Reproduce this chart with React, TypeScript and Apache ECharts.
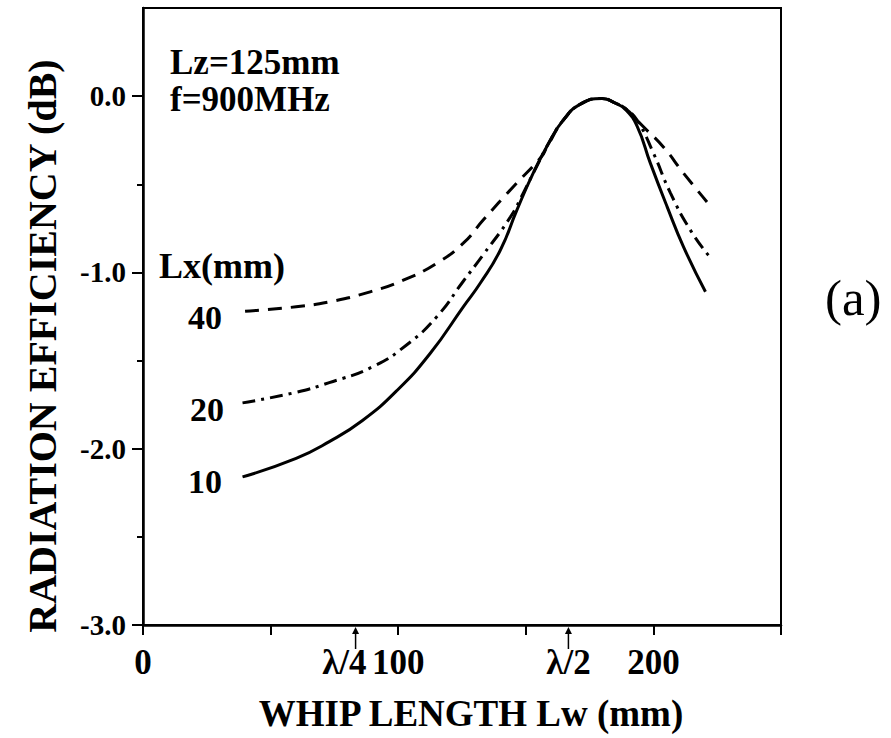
import React, { useEffect, useRef } from "react";
import * as echarts from "echarts";

const FONT = "Liberation Serif, Times New Roman, serif";

// Whip length Lw (mm) and radiation efficiency (dB) for each Lx
const lx10X = [39, 60, 73, 86, 99.5, 112.5, 125.5, 132.2, 140, 146.5, 152.9, 159.6, 164.7, 171.4, 179.9, 185.1, 189, 193.6, 198.8, 205.4, 211.8, 220.4];
const lx10Y = [-2.16, -2.055, -1.96, -1.84, -1.67, -1.46, -1.195, -1.06, -0.874, -0.647, -0.437, -0.25, -0.136, -0.045, -0.013, -0.04, -0.075, -0.17, -0.38, -0.628, -0.855, -1.11];

const lx20X = [39, 60, 73, 90, 103.4, 115.2, 125.5, 133.3, 144, 149, 152.9, 159.6, 164.7, 171.4, 179.9, 185.1, 189, 193.6, 200, 206.7, 214.5, 222];
const lx20Y = [-1.74, -1.68, -1.625, -1.535, -1.41, -1.25, -1.05, -0.9, -0.685, -0.55, -0.437, -0.25, -0.136, -0.045, -0.013, -0.04, -0.07, -0.136, -0.323, -0.55, -0.76, -0.91];

const lx40X = [40, 60, 73, 89, 102, 115.2, 125.5, 133.3, 145.1, 156.1, 158.3, 164.7, 171.4, 179.9, 185.1, 189, 196.1, 203.9, 211.8, 221];
const lx40Y = [-1.22, -1.195, -1.167, -1.11, -1.044, -0.947, -0.834, -0.703, -0.514, -0.344, -0.288, -0.136, -0.045, -0.013, -0.04, -0.07, -0.174, -0.288, -0.437, -0.6];

const xLabeled = [0, 100, 200];
const xTicks = [0, 50, 100, 150, 200, 250];
const yMajor = [-3, -2, -1, 0];
const yMinor = [-2.5, -1.5, -0.5];
const lambdaMarks = [
  { x: 83.3, text: "λ/4" },
  { x: 166.7, text: "λ/2" },
];

const zip = (xs: number[], ys: number[]) => xs.map((x, i) => [x, ys[i]]);

export default function App() {
  const ref = useRef<HTMLDivElement>(null);
  useEffect(() => {
    const chart = echarts.init(ref.current!, null, { renderer: "svg" });
    const black = "#000";
    const option: any = {
      animation: false,
      backgroundColor: "#fff",
      textStyle: { fontFamily: FONT },
      grid: {
        left: 143,
        right: 110,
        top: 8,
        bottom: 113,
        show: true,
        borderColor: black,
        borderWidth: 2,
      },
      xAxis: {
        type: "value",
        min: 0,
        max: 250,
        interval: 50,
        axisLine: { show: true, onZero: false, lineStyle: { color: black, width: 2.5 } },
        axisTick: { show: true, inside: false, length: 10, lineStyle: { color: black, width: 2 }, customValues: xTicks },
        axisLabel: {
          customValues: xLabeled,
          margin: 20,
          color: black,
          fontFamily: FONT,
          fontWeight: "bold",
          fontSize: 35,
          formatter: (v: number) => String(v),
        },
        splitLine: { show: false },
      },
      yAxis: [
        {
          type: "value",
          min: -3,
          max: 0.5,
          interval: 0.5,
          axisLine: { show: true, onZero: false, lineStyle: { color: black, width: 2.5 } },
          axisTick: { show: true, inside: false, length: 11, lineStyle: { color: black, width: 2 }, customValues: yMajor },
          axisLabel: {
            customValues: yMajor,
            margin: 17,
            color: black,
            fontFamily: FONT,
            fontWeight: "bold",
            fontSize: 29,
            formatter: (v: number) => v.toFixed(1),
          },
          splitLine: { show: false },
        },
        {
          type: "value",
          min: -3,
          max: 0.5,
          interval: 0.5,
          position: "left",
          axisLine: { show: false, onZero: false },
          axisTick: { show: true, inside: false, length: 6, lineStyle: { color: black, width: 2 }, customValues: yMinor },
          axisLabel: { show: false },
          splitLine: { show: false },
        },
      ],
      series: [
        {
          type: "line",
          name: "40",
          data: zip(lx40X, lx40Y),
          smooth: 0.5,
          showSymbol: false,
          lineStyle: { color: black, width: 3, type: [14, 9] },
          z: 2,
        },
        {
          type: "line",
          name: "20",
          data: zip(lx20X, lx20Y),
          smooth: 0.5,
          showSymbol: false,
          lineStyle: { color: black, width: 3, type: [13, 6, 3, 6] },
          z: 3,
        },
        {
          type: "line",
          name: "10",
          data: zip(lx10X, lx10Y),
          smooth: 0.5,
          showSymbol: false,
          lineStyle: { color: black, width: 3 },
          z: 4,
        },
      ],
    };
    chart.setOption(option);

    const axisY = chart.convertToPixel({ gridIndex: 0 }, [0, -3])[1];
    const graphics: any[] = [];
    lambdaMarks.forEach((m, i) => {
      const px = chart.convertToPixel({ gridIndex: 0 }, [m.x, -3])[0];
      graphics.push({
        type: "line",
        shape: { x1: px, y1: axisY + 5, x2: px, y2: axisY + 24 },
        style: { stroke: black, lineWidth: 1.5 },
      });
      graphics.push({
        type: "polygon",
        shape: { points: [[px, axisY + 2], [px - 3.5, axisY + 9], [px + 3.5, axisY + 9]] },
        style: { fill: black },
      });
      graphics.push({
        type: "text",
        x: i === 0 ? px + 11 : px,
        y: axisY + 20,
        style: {
          text: m.text,
          fontFamily: FONT,
          fontWeight: "bold",
          fontSize: 35,
          fill: black,
          align: i === 0 ? "right" : "center",
          verticalAlign: "top",
        },
      });
    });
    const txt = (text: string, x: number, y: number, size: number, bold = true, align = "left") => ({
      type: "text",
      x,
      y,
      style: {
        text,
        fontFamily: FONT,
        fontWeight: bold ? "bold" : "normal",
        fontSize: size,
        fill: black,
        align,
        verticalAlign: "middle",
      },
    });
    graphics.push(txt("Lz=125mm", 170, 62, 35));
    graphics.push(txt("f=900MHz", 170, 99, 35));
    graphics.push(txt("Lx(mm)", 159, 266, 36));
    graphics.push(txt("40", 188, 317, 34));
    graphics.push(txt("20", 190, 409, 34));
    graphics.push(txt("10", 188, 481, 34));
    graphics.push(txt("(a)", 825, 298, 51, false));
    graphics.push(txt("WHIP LENGTH Lw (mm)", 471, 713, 37, true, "center"));
    graphics.push({
      type: "text",
      x: 42,
      y: 346,
      rotation: Math.PI / 2,
      style: {
        text: "RADIATION EFFICIENCY (dB)",
        fontFamily: FONT,
        fontWeight: "bold",
        fontSize: 40,
        fill: black,
        align: "center",
        verticalAlign: "middle",
      },
    });
    chart.setOption({ graphic: graphics });

    return () => chart.dispose();
  }, []);
  return <div ref={ref} style={{ position: "absolute", left: 0, top: 0, width: 891, height: 738 }} />;
}
